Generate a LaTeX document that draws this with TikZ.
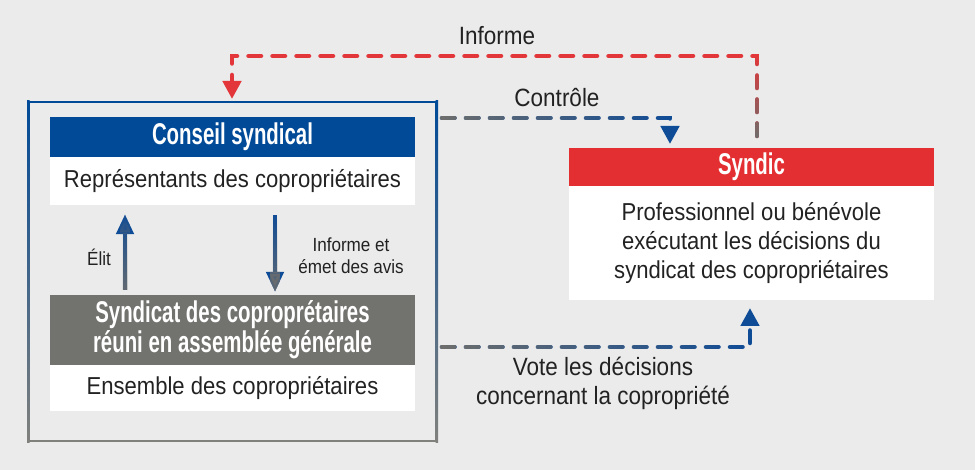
\documentclass[tikz,border=0pt]{standalone}
\usepackage{fontspec}
\setmainfont{Liberation Sans}[FakeStretch=0.9]
\newfontfamily\titlefont{Liberation Sans}[FakeStretch=0.68]
\usetikzlibrary{arrows.meta,calc,fadings}
\definecolor{bg}{HTML}{EBEBEB}
\definecolor{cblue}{HTML}{004A98}
\definecolor{cgray}{HTML}{72726E}
\definecolor{cred}{HTML}{E32F32}
\definecolor{txt}{HTML}{222222}
\definecolor{lblue}{HTML}{0F4C97}
\definecolor{dred}{HTML}{E3363A}
\definecolor{dblue}{HTML}{0F4C97}
\definecolor{dgray}{HTML}{6E6E6C}
\tikzfading[name=fadeL, left color=transparent!0, right color=transparent!100]
\tikzfading[name=fadeB, bottom color=transparent!0, top color=transparent!100]
\tikzfading[name=fadeBHalf, bottom color=transparent!10, middle color=transparent!100, top color=transparent!100]
\tikzset{
  head/.style={rectangle, minimum width=365pt, inner sep=0pt, text=white,
    font=\titlefont\bfseries\fontsize{30}{30}\selectfont, align=center},
  body/.style={rectangle, fill=white, minimum width=365pt, inner sep=0pt, text=txt,
    font=\fontsize{24.5}{29}\selectfont, align=center},
  lbl/.style={text=txt, font=\fontsize{25}{29}\selectfont, align=center, inner sep=0pt},
  slbl/.style={text=txt, font=\fontsize{19}{22}\selectfont, align=center, inner sep=0pt},
  vArrow/.style={line width=4.5pt, -{Triangle[width=17pt,length=20pt]}},
  dashLine/.style={line width=4.5pt, line cap=round, dash pattern=on 12.5pt off 11.5pt},
  dashTip/.style={dashLine, -{Triangle[width=18pt,length=18pt]}},
}
\begin{document}
\begin{tikzpicture}[x=1pt,y=-1pt]
\fill[bg] (0,0) rectangle (975,470);
\useasboundingbox (0,0) rectangle (975,470);
% outer box with blue->gray border
\shade[top color=cblue, bottom color=cgray!90] (27,101) rectangle (29.5,442);
\shade[top color=cblue, bottom color=cgray!90] (435.5,101) rectangle (438,442);
\fill[cblue] (27,101) rectangle (438,103.5);
\fill[cgray!90] (27,439.5) rectangle (438,442);
\coordinate (boxTL) at (28,102);
\coordinate (boxBR) at (437,441);
% nodes
\node[head, fill=cblue, minimum height=40pt] (conHead) at (232.5,137) {Conseil syndical};
\node[body, minimum height=48pt] (conBody) at (232.5,181) {Représentants des copropriétaires};
\node[head, fill=cgray, minimum height=70pt] (synHead) at (232.5,330) {Syndicat des coproprétaires\\réuni en assemblée générale};
\node[body, minimum height=46pt] (synBody) at (232.5,388) {Ensemble des copropriétaires};
\node[head, fill=cred, minimum height=38pt] (sdHead) at (751.5,167) {Syndic};
\node[body, minimum height=114pt] (sdBody) at (751.5,243) {Professionnel ou bénévole\\exécutant les décisions du\\syndicat des copropriétaires};
% vertical arrows
\coordinate (elX) at (125,0);
\coordinate (infX) at (275,0);
\draw[vArrow, lblue] ($(synHead.north -| elX)+(0,-5)$) -- ($(conBody.south -| elX)+(0,9)$);
\draw[vArrow, dgray, path fading=fadeBHalf] ($(synHead.north -| elX)+(0,-5)$) -- ($(conBody.south -| elX)+(0.1,9)$);
\draw[vArrow, lblue] ($(conBody.south -| infX)+(0,10)$) -- ($(synHead.north -| infX)+(0,-3)$);
\draw[vArrow, dgray, path fading=fadeBHalf] ($(conBody.south -| infX)+(0,10)$) -- ($(synHead.north -| infX)+(0.1,-3)$);
\node[slbl] (elit) at (99,257) {Élit};
\node[slbl] (infEt) at (351,256) {Informe et\\émet des avis};
% Informe (red)
\coordinate (iStart) at (757,136);
\coordinate (iTopR) at (757,56);
\coordinate (iTopL) at (232,56);
\coordinate (iEnd) at (232,99);
\draw[dashTip, dred] (iStart) -- (iTopR) -- (iTopL) -- (iEnd);
\draw[dashLine, dgray, path fading=fadeB] (iStart) -- (iTopR) -- ++(-0.1,0);
\node[lbl] (informe) at (497,36) {Informe};
% Controle
\coordinate (cStart) at (442,118);
\coordinate (cCorner) at (670,118);
\coordinate (cEnd) at (670,144);
\draw[dashTip, dblue] (cStart) -- (cCorner) -- (cEnd);
\draw[dashLine, dgray, path fading=fadeL] (cStart) -- (cCorner) -- (cEnd);
\node[lbl] (controle) at (557,98) {Contrôle};
% Vote
\coordinate (vStart) at (442,347);
\coordinate (vCorner) at (750,347);
\coordinate (vEnd) at (750,308);
\draw[dashTip, dblue] (vStart) -- (vCorner) -- (vEnd);
\draw[dashLine, dgray, path fading=fadeL] (vStart) -- (vCorner) -- (vEnd);
\node[lbl] (vote) at (603,383) {Vote les décisions\\concernant la copropriété};
\end{tikzpicture}
\end{document}
